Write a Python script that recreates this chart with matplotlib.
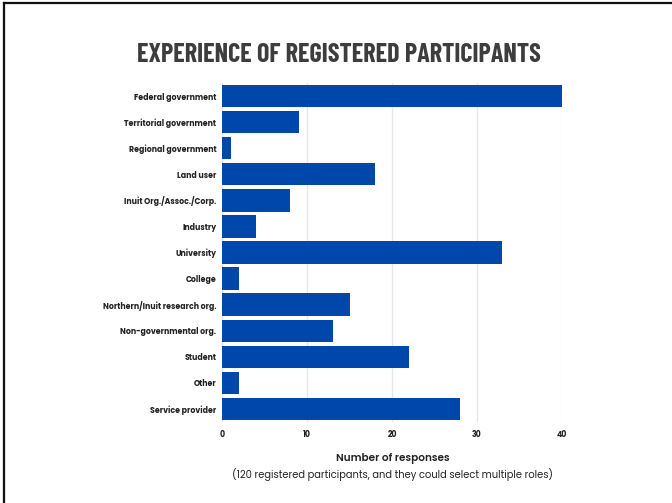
import matplotlib
matplotlib.use("Agg")
import matplotlib.pyplot as plt
from matplotlib.lines import Line2D

categories = ["Federal government", "Territorial government", "Regional government",
              "Land user", "Inuit Org./Assoc./Corp.", "Industry", "University",
              "College", "Northern/Inuit research org.", "Non-governmental org.",
              "Student", "Other", "Service provider"]
values = [40, 9, 1, 18, 8, 4, 33, 2, 15, 13, 22, 2, 28]
xticks = [0, 10, 20, 30, 40]

LABEL_FONT = ["Poppins", "Lato", "DejaVu Sans"]
TITLE_FONT = ["Barlow Condensed", "Roboto Condensed", "Oswald", "DejaVu Sans"]

fig = plt.figure(figsize=(6.72, 5.03), dpi=100)
fig.patch.set_facecolor("white")
ax = fig.add_axes([0.3304, 0.161, 0.5059, 0.674])

ypos = list(range(len(categories)))
ax.barh(ypos, values, height=0.86, color="#0047AB", zorder=3)
ax.set_xlim(0, 40)
ax.set_ylim(len(categories) - 0.5, -0.5)
ax.set_yticks(ypos)
ax.set_yticklabels(categories, fontfamily=LABEL_FONT, fontweight="bold", fontsize=5.6, color="#222222")
ax.set_xticks(xticks)
ax.set_xticklabels([str(t) for t in xticks], fontfamily=LABEL_FONT, fontweight="bold", fontsize=5.6, color="#222222")
ax.tick_params(axis="x", length=0, pad=6)
ax.tick_params(axis="y", length=0, pad=4)
for s in ax.spines.values():
    s.set_visible(False)
ax.grid(axis="x", color="#e6e6e6", linewidth=0.9, zorder=0)
ax.grid(axis="y", visible=False)

fig.text(0.505, 0.891, "EXPERIENCE OF REGISTERED PARTICIPANTS", ha="center", va="center",
         fontfamily=TITLE_FONT, fontweight="bold",
         fontsize=18.9, color="#3d3d3d")
fig.text(0.584, 0.089, "Number of responses", ha="center", va="center",
         fontfamily=LABEL_FONT, fontweight="semibold", fontsize=7.5, color="#222222")
fig.text(0.584, 0.056, "(120 registered participants, and they could select multiple roles)",
         ha="center", va="center", fontfamily=LABEL_FONT, fontsize=7.15, color="#222222")

fig.add_artist(Line2D([0.006, 1.0], [0.994, 0.994], transform=fig.transFigure, color="#111111", linewidth=1.6))
fig.add_artist(Line2D([0.0065, 0.0065], [0.0, 0.994], transform=fig.transFigure, color="#111111", linewidth=1.6))

fig.savefig("out.png", dpi=100)
